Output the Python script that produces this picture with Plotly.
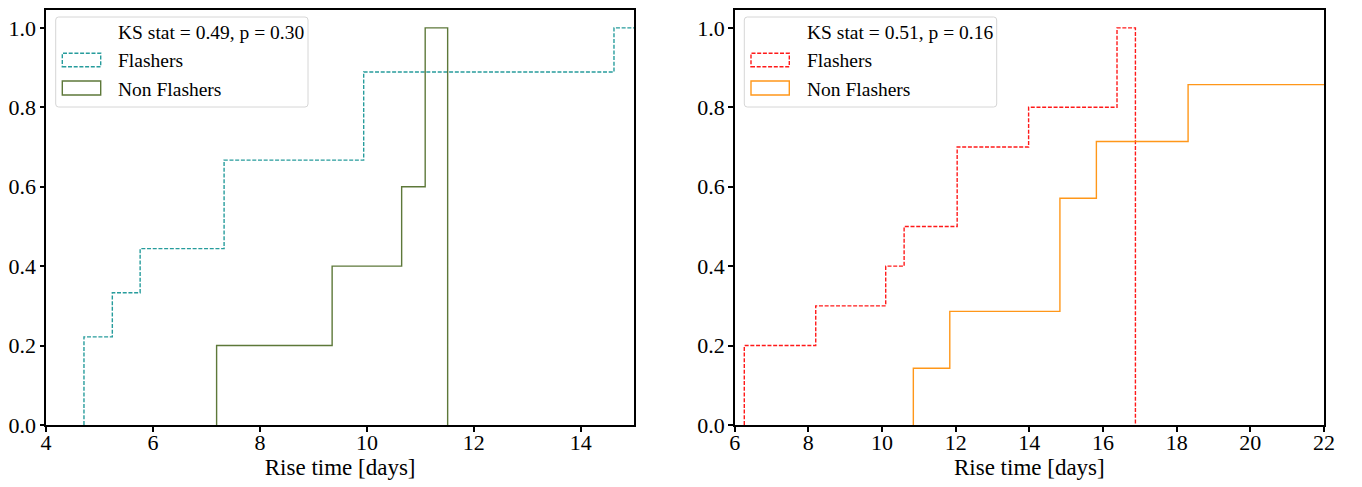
import plotly.graph_objects as go

# ---- data ----
left_flash_edges = [4.71, 5.24, 5.76, 7.33, 9.94, 14.62, 15.3]
left_flash_vals = [0.222, 0.333, 0.444, 0.667, 0.889, 1.0]
left_non_edges = [7.19, 9.35, 10.65, 11.09, 11.51]
left_non_vals = [0.2, 0.4, 0.6, 1.0]

right_flash_edges = [6.26, 8.20, 10.10, 10.60, 12.04, 13.98, 16.38, 16.88]
right_flash_vals = [0.2, 0.3, 0.4, 0.5, 0.7, 0.8, 1.0]
right_non_edges = [10.85, 11.84, 14.83, 15.82, 18.31, 22.6]
right_non_vals = [0.143, 0.286, 0.571, 0.714, 0.857]

left_ks = "KS stat = 0.49, p = 0.30"
right_ks = "KS stat = 0.51, p = 0.16"
series_names = ["Flashers", "Non Flashers"]

x_label = "Rise time [days]"
left_xticks = [4, 6, 8, 10, 12, 14]
right_xticks = [6, 8, 10, 12, 14, 16, 18, 20, 22]
yticks = [0.0, 0.2, 0.4, 0.6, 0.8, 1.0]

# ---- styles ----
C_TEAL = "rgba(0,139,139,0.85)"
C_OLIVE = "rgba(75,105,35,0.9)"
C_RED = "rgba(255,0,0,0.9)"
C_ORANGE = "rgba(255,140,0,0.9)"
FONT = "Liberation Serif"
DASH = "4px,1.7px"

# the page body has an 8px margin, so the figure is drawn 8px in from the corner
OFF = 8
W, H = 1362 - OFF, 487 - OFF
# target plot-area pixels (page coordinates) : x 46..1324, y 10..425
ML, MR, MT, MB = 46 - OFF, 1362 - 1324, 10 - OFF, 487 - 425
PW, PH = W - ML - MR, H - MT - MB


def px(x):
    # page pixel -> paper fraction
    return (x - OFF - ML) / PW


def py(y):
    return (H - MB - (y - OFF)) / PH


def step_xy(edges, vals):
    xs = [edges[0]] + list(edges)
    ys = [0.0] + list(vals) + [0.0]
    return xs, ys


fig = go.Figure()

traces = [
    (left_flash_edges, left_flash_vals, C_TEAL, DASH, "x", "y", series_names[0]),
    (left_non_edges, left_non_vals, C_OLIVE, "solid", "x", "y", series_names[1]),
    (right_flash_edges, right_flash_vals, C_RED, DASH, "x2", "y2", series_names[0]),
    (right_non_edges, right_non_vals, C_ORANGE, "solid", "x2", "y2", series_names[1]),
]
for edges, vals, col, dash, xa, ya, name in traces:
    xs, ys = step_xy(edges, vals)
    fig.add_trace(go.Scatter(x=xs, y=ys, mode="lines", line_shape="hv",
                             line=dict(color=col, width=1.4, dash=dash),
                             xaxis=xa, yaxis=ya, name=name, showlegend=False,
                             hoverinfo="skip"))

ax_left_px = (46, 634.3)
ax_right_px = (734.7, 1324)

axis_common = dict(showline=True, linecolor="black", linewidth=2, mirror=True,
                   ticks="outside", ticklen=4.5, tickwidth=1.5, tickcolor="black",
                   showgrid=False, zeroline=False, automargin=False,
                   tickfont=dict(family=FONT, size=22, color="black"))
xtitle = dict(text=x_label, font=dict(family=FONT, size=23, color="black"), standoff=5)
YRANGE = [0, 1.045]

fig.update_layout(
    width=W, height=H,
    margin=dict(l=ML, r=MR, t=MT, b=MB, pad=0),
    paper_bgcolor="white", plot_bgcolor="white",
    showlegend=False,
    xaxis=dict(domain=[px(ax_left_px[0]), px(ax_left_px[1])], range=[4, 15],
               tickvals=left_xticks, anchor="y", title=xtitle,
               ticklabelstandoff=-8, **axis_common),
    yaxis=dict(domain=[0, 1], range=YRANGE, tickvals=yticks, tickformat=".1f",
               anchor="x", ticklabelstandoff=-1, **axis_common),
    xaxis2=dict(domain=[px(ax_right_px[0]), px(ax_right_px[1])], range=[6, 22],
                tickvals=right_xticks, anchor="y2", title=xtitle,
                ticklabelstandoff=-8, **axis_common),
    yaxis2=dict(domain=[0, 1], range=YRANGE, tickvals=yticks, tickformat=".1f",
                anchor="x2", ticklabelstandoff=-1, **axis_common),
)


def rounded_rect(x0, y0, x1, y1, r=3):
    X0, X1 = px(x0), px(x1)
    Y0, Y1 = py(y0), py(y1)  # Y0 top, Y1 bottom
    rx, ry = r / PW, r / PH
    return (f"M {X0+rx},{Y0} L {X1-rx},{Y0} Q {X1},{Y0} {X1},{Y0-ry} "
            f"L {X1},{Y1+ry} Q {X1},{Y1} {X1-rx},{Y1} L {X0+rx},{Y1} "
            f"Q {X0},{Y1} {X0},{Y1+ry} L {X0},{Y0-ry} Q {X0},{Y0} {X0+rx},{Y0} Z")


shapes = []
annotations = []
legends = [
    (55.7, 308.0, 116, 62.3, 100.7, left_ks, C_TEAL, C_OLIVE),
    (744.3, 996.7, 805, 751.0, 789.3, right_ks, C_RED, C_ORANGE),
]
for bx0, bx1, tx, hx0, hx1, ks, c1, c2 in legends:
    shapes.append(dict(type="path", xref="paper", yref="paper",
                       path=rounded_rect(bx0, 17, bx1, 107),
                       fillcolor="rgba(255,255,255,0.8)",
                       line=dict(color="rgba(214,214,214,1)", width=1)))
    shapes.append(dict(type="rect", xref="paper", yref="paper",
                       x0=px(hx0), x1=px(hx1), y0=py(66.7), y1=py(53.3),
                       fillcolor="rgba(0,0,0,0)",
                       line=dict(color=c1, width=1.4, dash=DASH)))
    shapes.append(dict(type="rect", xref="paper", yref="paper",
                       x0=px(hx0), x1=px(hx1), y0=py(95), y1=py(81),
                       fillcolor="rgba(0,0,0,0)",
                       line=dict(color=c2, width=1.4)))
    for text, ty in [(ks, 32.7), (series_names[0], 60.7), (series_names[1], 89.3)]:
        annotations.append(dict(text=text, xref="paper", yref="paper",
                                x=px(tx), y=py(ty), xanchor="left", yanchor="middle",
                                showarrow=False,
                                font=dict(family=FONT, size=19.5, color="black")))

fig.update_layout(shapes=shapes, annotations=annotations)

fig.write_html("out.html")
